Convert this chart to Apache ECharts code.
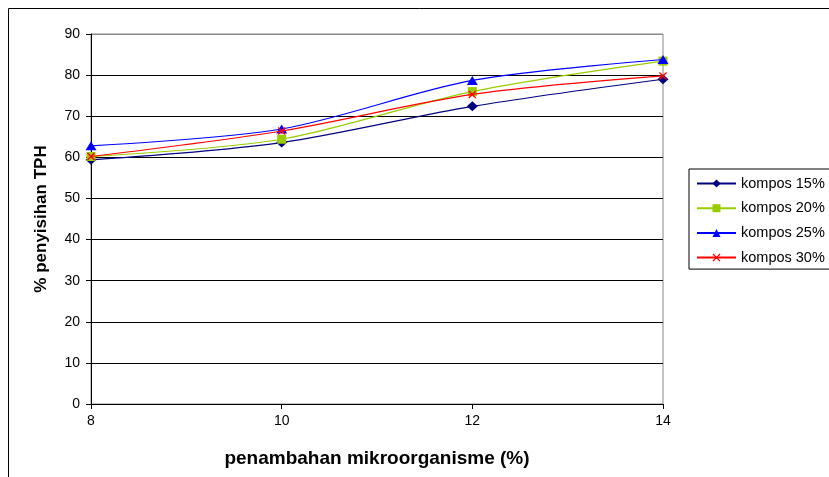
<!DOCTYPE html>
<html>
<head>
<meta charset="utf-8">
<script src="https://cdn.jsdelivr.net/npm/echarts@6/dist/echarts.min.js"></script>
<style>
  html, body { margin: 0; padding: 0; background: #fff; }
  #chart { width: 829px; height: 477px; }
</style>
</head>
<body>
<div id="chart"></div>
<script>
// Penambahan mikroorganisme (%) on the x axis
const dosis = [8, 10, 12, 14];
// % penyisihan TPH for each compost level
const kompos15 = [59.4, 63.6, 72.4, 79.0];
const kompos20 = [60.2, 64.4, 76.0, 83.4];
const kompos25 = [62.8, 66.9, 78.7, 83.8];
const kompos30 = [60.2, 66.4, 75.3, 79.8];
const seriesNames = ['kompos 15%', 'kompos 20%', 'kompos 25%', 'kompos 30%'];

const FONT = '"Liberation Sans", Arial, sans-serif';
const crossPath = 'path://M0,1.2L1.2,0L5,3.8L8.8,0L10,1.2L6.2,5L10,8.8L8.8,10L5,6.2L1.2,10L0,8.8L3.8,5Z';

function pairs(vals) {
  return dosis.map((d, i) => [d, vals[i]]);
}

const styles = [
  { data: kompos15, color: '#000080', symbol: 'diamond', size: [11, 10] },
  { data: kompos20, color: '#99CC00', symbol: 'rect', size: 9 },
  { data: kompos25, color: '#0000FF', symbol: 'triangle', size: [11, 9] },
  { data: kompos30, color: '#FF0000', symbol: crossPath, size: 8 }
];

const chart = echarts.init(document.getElementById('chart'), null, { renderer: 'canvas' });

chart.setOption({
  animation: false,
  backgroundColor: '#fff',
  graphic: [{
    type: 'rect',
    shape: { x: 8.5, y: 8.5, width: 900, height: 600 },
    style: { fill: 'none', stroke: '#000', lineWidth: 1 },
    silent: true
  }],
  grid: {
    left: 91, right: 166, top: 34, bottom: 73,
    show: true, borderColor: '#888', borderWidth: 1, backgroundColor: 'transparent'
  },
  legend: {
    orient: 'vertical',
    left: 689, top: 169,
    itemWidth: 39, itemHeight: 10,
    itemGap: 9.7,
    padding: [7, 60, 4, 7],
    borderColor: '#000', borderWidth: 1,
    textStyle: { fontFamily: FONT, fontSize: 14.5, color: '#000' },
    data: seriesNames
  },
  xAxis: {
    type: 'value',
    min: 8, max: 14, interval: 2,
    name: 'penambahan mikroorganisme (%)',
    nameLocation: 'middle',
    nameGap: 45,
    nameTextStyle: { fontFamily: FONT, fontSize: 19, fontWeight: 'bold', color: '#000' },
    axisLine: { lineStyle: { color: '#000', width: 1 } },
    axisTick: { show: true, inside: false, length: 5, lineStyle: { color: '#000' } },
    axisLabel: { fontFamily: FONT, fontSize: 14, color: '#000', margin: 10 },
    splitLine: { show: false }
  },
  yAxis: {
    type: 'value',
    min: 0, max: 90, interval: 10,
    name: '% penyisihan TPH',
    nameLocation: 'middle',
    nameGap: 41,
    nameTextStyle: { fontFamily: FONT, fontSize: 17, fontWeight: 'bold', color: '#000' },
    axisLine: { show: true, lineStyle: { color: '#000', width: 1 } },
    axisTick: { show: true, inside: false, length: 5, lineStyle: { color: '#000' } },
    axisLabel: { fontFamily: FONT, fontSize: 14, color: '#000', margin: 11 },
    splitLine: {
      show: true,
      lineStyle: { color: ['#000', '#000', '#000', '#000', '#000', '#000', '#000', '#000', '#000', '#888'], width: 1 }
    }
  },
  series: styles.map((s, i) => ({
    name: seriesNames[i],
    type: 'line',
    data: pairs(s.data),
    smooth: 0.3,
    symbol: s.symbol,
    symbolSize: s.size,
    lineStyle: { color: s.color, width: 1.2 },
    itemStyle: { color: s.color },
    z: 3 + i
  }))
});
</script>
</body>
</html>
